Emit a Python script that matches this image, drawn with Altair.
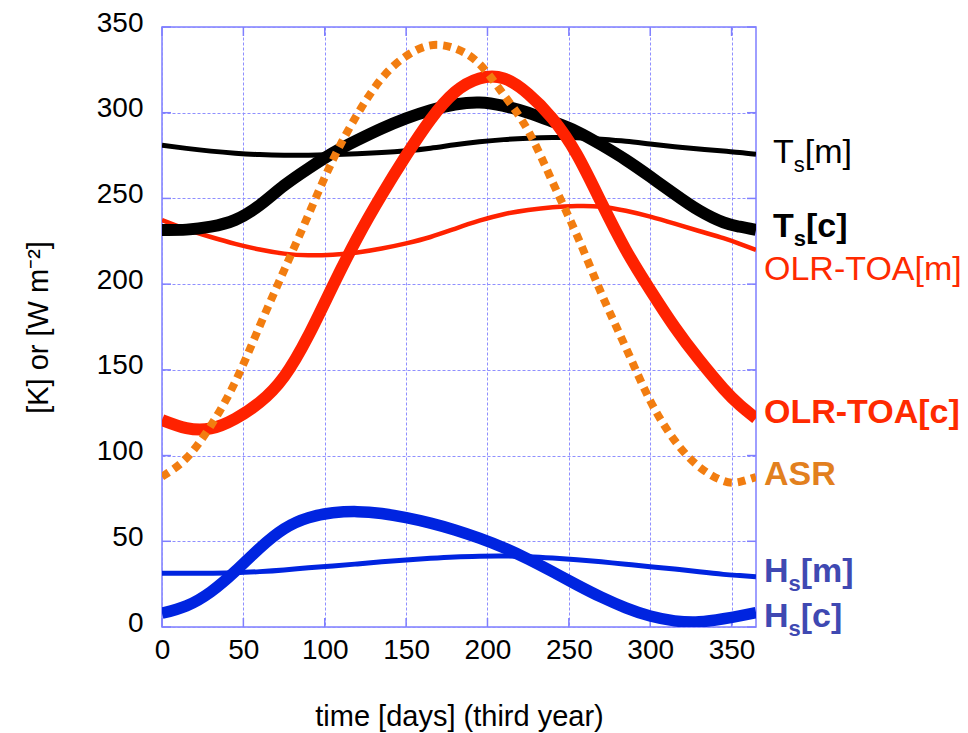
import altair as alt
import pandas as pd

# ---------------- data ----------------
days = [0, 15, 30, 45, 60, 75, 90, 105, 120, 135, 150, 165, 180, 195, 210,
        225, 240, 255, 270, 285, 300, 315, 330, 345, 355, 365]

ts_m = [281.0, 279.2, 277.6, 276.4, 275.6, 275.2, 275.2, 275.6, 276.1, 276.8,
        277.8, 279.3, 281.3, 283.0, 284.3, 285.1, 285.5, 285.4, 284.5, 283.3,
        281.7, 280.2, 278.9, 277.6, 276.8, 275.7]
ts_c = [231.6, 231.8, 233.5, 237.5, 246.0, 257.5, 267.5, 276.5, 284.0, 290.8,
        296.7, 301.5, 304.8, 306.0, 304.0, 300.0, 294.8, 289.0, 281.2, 272.5,
        262.7, 252.5, 243.0, 236.0, 233.5, 231.6]
olr_m = [237.4, 232.0, 227.5, 223.5, 220.2, 217.8, 216.8, 217.2, 218.5, 220.8,
         223.8, 227.5, 232.3, 237.0, 240.8, 243.3, 244.9, 245.6, 245.2, 242.8,
         239.4, 235.3, 231.0, 226.8, 223.5, 220.0]
olr_c = [120.7, 116.0, 115.8, 121.5, 131.0, 146.0, 170.0, 199.0, 227.0, 252.0,
         275.0, 296.0, 312.0, 320.0, 320.0, 311.0, 296.5, 275.5, 247.5, 220.0,
         196.6, 175.0, 156.0, 139.0, 129.5, 121.7]
asr = [87.7, 98.5, 117.5, 143.0, 175.5, 208.0, 240.5, 272.5, 299.0, 320.0,
       333.0, 339.3, 337.5, 328.5, 310.5, 289.5, 259.5, 228.5, 194.5, 163.0,
       132.0, 108.8, 93.5, 85.2, 84.7, 87.5]
hs_m = [31.3, 31.3, 31.4, 31.6, 32.3, 33.3, 34.5, 35.6, 36.8, 38.0,
        39.1, 40.1, 40.9, 41.3, 41.4, 41.0, 40.2, 39.2, 38.0, 36.6,
        35.2, 33.8, 32.2, 30.7, 30.0, 29.3]
hs_c = [8.0, 12.3, 20.5, 32.5, 46.0, 57.3, 63.8, 66.6, 67.3, 66.2,
        63.8, 60.6, 56.6, 51.8, 46.2, 39.6, 32.2, 24.6, 17.4, 11.2,
        6.4, 3.6, 3.0, 4.8, 6.5, 8.4]

x_ticks = [0, 50, 100, 150, 200, 250, 300, 350]
y_ticks = [0, 50, 100, 150, 200, 250, 300, 350]

# label texts (main part, subscript, remainder)
label_main = ["T", "T", "OLR-TOA[m]", "OLR-TOA[c]", "ASR", "H", "H"]
label_sub = ["s", "s", "", "", "", "s", "s"]
label_rest = ["[m]", "[c]", "", "", "", "[m]", "[c]"]
series_for_label = [ts_m, ts_c, olr_m, olr_c, asr, hs_m, hs_c]

# ---------------- styles ----------------
W, H = 594, 600
FONT = "Liberation Sans"
GRID = "#8f8fff"
FRAME = "#7f7fff"
RED = "#ff2200"
ORANGE = "#f27d10"
BLUE = "#0024e0"

label_style = [
    # dx, dy, bold, color, main width (px), sub width (px)
    dict(dx=17, dy=8.6, bold=False, color="#000000", mw=20.8, sw=11.0),
    dict(dx=17, dy=7.0, bold=True, color="#000000", mw=20.8, sw=12.2),
    dict(dx=8, dy=30.0, bold=False, color="#ff2a00", mw=0, sw=0),
    dict(dx=8, dy=4.6, bold=True, color="#ff2a00", mw=0, sw=0),
    dict(dx=8, dy=8.0, bold=True, color="#e2801e", mw=0, sw=0),
    dict(dx=8, dy=5.2, bold=True, color="#3f49b2", mw=24.5, sw=12.2),
    dict(dx=8, dy=14.4, bold=True, color="#3f49b2", mw=24.5, sw=12.2),
]
MAIN_FS = 34
SUB_FS = 22
SUB_DROP = 9

X = alt.X(
    "day:Q",
    scale=alt.Scale(domain=[0, 365], nice=False, zero=False),
    axis=alt.Axis(
        values=x_ticks, title="time [days] (third year)",
        titleFontSize=29, titleFontWeight="normal", titleColor="black",
        titleX=W / 2, titleY=98, titleBaseline="alphabetic", titleAlign="center",
        labelFontSize=28, labelColor="black", labelPadding=9, labelFlush=False,
        labelOverlap=False, ticks=False, domain=False,
        grid=True, gridColor=GRID, gridDash=[3, 2], gridWidth=1,
    ),
)
Y = alt.Y(
    "value:Q",
    scale=alt.Scale(domain=[0, 350], nice=False, zero=False),
    axis=alt.Axis(
        values=y_ticks, title="[K] or [W m⁻²]",
        titleFontSize=29, titleFontWeight="normal", titleColor="black",
        titleAngle=270, titleX=-115, titleY=H / 2, titleBaseline="alphabetic",
        titleAlign="center",
        labelFontSize=28, labelColor="black", labelPadding=19, labelFlush=False,
        labelOffset=-4, labelOverlap=False, ticks=False, domain=False,
        grid=True, gridColor=GRID, gridDash=[3, 2], gridWidth=1,
    ),
)


def line(vals, color, width, dash=None):
    df = pd.DataFrame({"day": days, "value": vals})
    kw = dict(color=color, strokeWidth=width, interpolate="natural",
              strokeCap="butt", clip=True)
    if dash:
        kw["strokeDash"] = dash
    return alt.Chart(df).mark_line(**kw).encode(x=X, y=Y)


layers = []

# inward tick marks on all four sides
xt = pd.DataFrame({"day": x_ticks})
yt = pd.DataFrame({"value": y_ticks})
tick_kw = dict(color=FRAME, strokeWidth=1.5)
layers.append(alt.Chart(xt).mark_rule(**tick_kw).encode(x=X, y=alt.value(H), y2=alt.value(H - 9)))
layers.append(alt.Chart(xt).mark_rule(**tick_kw).encode(x=X, y=alt.value(0), y2=alt.value(9)))
layers.append(alt.Chart(yt).mark_rule(**tick_kw).encode(y=Y, x=alt.value(0), x2=alt.value(9)))
layers.append(alt.Chart(yt).mark_rule(**tick_kw).encode(y=Y, x=alt.value(W - 9), x2=alt.value(W)))

# curves
layers.append(line(ts_m, "#000000", 5))
layers.append(line(olr_m, RED, 4.5))
layers.append(line(hs_m, BLUE, 5))
layers.append(line(ts_c, "#000000", 12))
layers.append(line(olr_c, RED, 12))
layers.append(line(hs_c, BLUE, 11.5))
layers.append(line(asr, ORANGE, 8, dash=[8, 6]))

# right-hand labels, anchored at each series' last value
for main, sub, rest, ser, st in zip(label_main, label_sub, label_rest,
                                    series_for_label, label_style):
    anchor = pd.DataFrame({"day": [days[-1]], "value": [ser[-1]]})
    weight = "bold" if st["bold"] else "normal"
    pieces = [(main, st["dx"], st["dy"], MAIN_FS)]
    if sub:
        pieces.append((sub, st["dx"] + st["mw"], st["dy"] + SUB_DROP, SUB_FS))
    if rest:
        pieces.append((rest, st["dx"] + st["mw"] + st["sw"], st["dy"], MAIN_FS))
    for txt, dx, dy, fs in pieces:
        layers.append(
            alt.Chart(anchor).mark_text(
                align="left", baseline="alphabetic", dx=dx, dy=dy,
                fontSize=fs, fontWeight=weight, color=st["color"], font=FONT,
            ).encode(x=X, y=Y, text=alt.value(txt))
        )

chart = (
    alt.layer(*layers)
    .properties(
        width=W, height=H,
        padding={"left": 162, "top": 27, "right": 968 - 162 - W, "bottom": 733 - 27 - H},
        autosize=alt.AutoSizeParams(type="none"),
    )
    .configure(font=FONT)
    .configure_view(stroke=FRAME, strokeWidth=1.5)
)

chart.save("out.html", embed_options={"renderer": "svg", "actions": False})
